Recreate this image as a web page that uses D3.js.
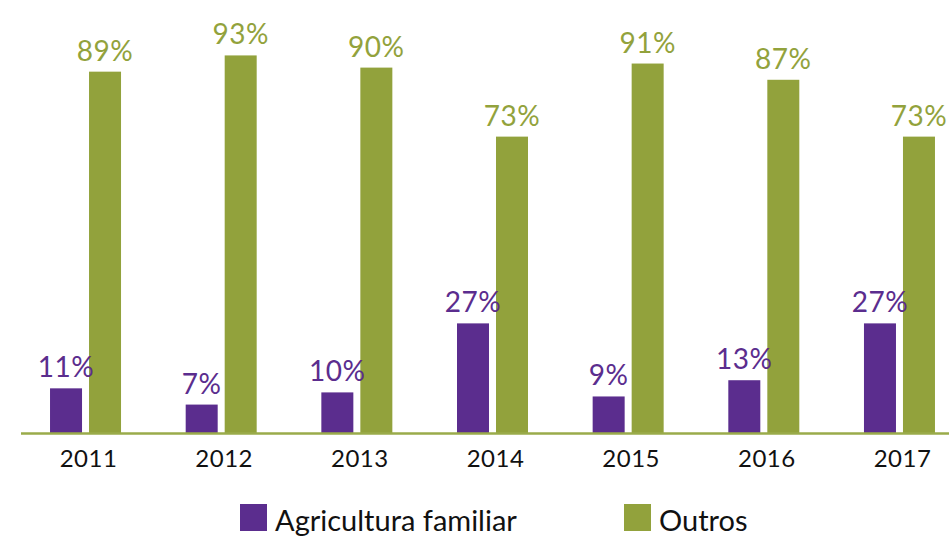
<!DOCTYPE html>
<html>
<head>
<meta charset="utf-8">
<script src="https://cdn.jsdelivr.net/npm/d3@7"></script>
<style>
  body { margin: 0; background: #fff; }
  svg { display: block; font-family: Lato, "Open Sans", sans-serif; }
</style>
</head>
<body>
<div id="chart"></div>
<script>
// dados
const years = ['2011', '2012', '2013', '2014', '2015', '2016', '2017'];
const agricultura = [11, 7, 10, 27, 9, 13, 27];
const outros = [89, 93, 90, 73, 91, 87, 73];
const seriesNames = ['Agricultura familiar', 'Outros'];

const width = 949, height = 536;
const baseY = 433;
const colors = { 'Agricultura familiar': '#5b2d8e', 'Outros': '#92a23c' };

const svg = d3.select('#chart').append('svg')
  .attr('width', width)
  .attr('height', height);

// escalas
const x0 = d3.scaleBand().domain(years).range([17.7, 967.3]);
const x1 = d3.scaleBand().domain(seriesNames)
  .range([x0.bandwidth() / 2 - 35.5, x0.bandwidth() / 2 + 35.5])
  .paddingInner(0.1795);
const y = d3.scaleLinear().domain([0, 100]).range([baseY, 27]);

const rows = years.map((yr, i) => ({
  year: yr,
  values: [
    { name: seriesNames[0], value: agricultura[i] },
    { name: seriesNames[1], value: outros[i] }
  ]
}));

const groups = svg.selectAll('g.group')
  .data(rows)
  .join('g')
  .attr('class', 'group')
  .attr('transform', d => `translate(${x0(d.year)},0)`);

groups.selectAll('rect')
  .data(d => d.values)
  .join('rect')
  .attr('x', d => x1(d.name))
  .attr('y', d => y(d.value))
  .attr('width', x1.bandwidth())
  .attr('height', d => baseY - y(d.value))
  .attr('fill', d => colors[d.name]);

// rótulos de valor
groups.selectAll('text.val')
  .data(d => d.values)
  .join('text')
  .attr('class', 'val')
  .attr('x', d => x1(d.name) + x1.bandwidth() / 2)
  .attr('y', d => y(d.value) - 11)
  .attr('text-anchor', 'middle')
  .style('font-size', '28px')
  .style('letter-spacing', '0.5px')
  .attr('fill', d => colors[d.name])
  .text(d => d.value + '%');

// linha do eixo
svg.append('line')
  .attr('x1', 21).attr('x2', width)
  .attr('y1', baseY + 0.5).attr('y2', baseY + 0.5)
  .attr('stroke', '#9aab4a')
  .attr('stroke-width', 2.5);

// anos
const xAxis = svg.append('g')
  .attr('transform', `translate(0,${baseY})`)
  .call(d3.axisBottom(x0).tickSize(0).tickPadding(17));
xAxis.select('.domain').remove();
xAxis.selectAll('text')
  .attr('dx', '3')
  .style('font-size', '24px')
  .style('letter-spacing', '0.5px')
  .style('font-family', 'Lato, "Open Sans", sans-serif')
  .attr('fill', '#111');

// legenda
const legendX = [240, 624];
const legend = svg.selectAll('g.legend')
  .data(seriesNames)
  .join('g')
  .attr('class', 'legend')
  .attr('transform', (d, i) => `translate(${legendX[i]},504)`);
legend.append('rect')
  .attr('width', 27).attr('height', 27)
  .attr('fill', d => colors[d]);
legend.append('text')
  .attr('x', 35).attr('y', 27)
  .style('font-size', '29px')
  .attr('fill', '#111')
  .text(d => d);
</script>
</body>
</html>
